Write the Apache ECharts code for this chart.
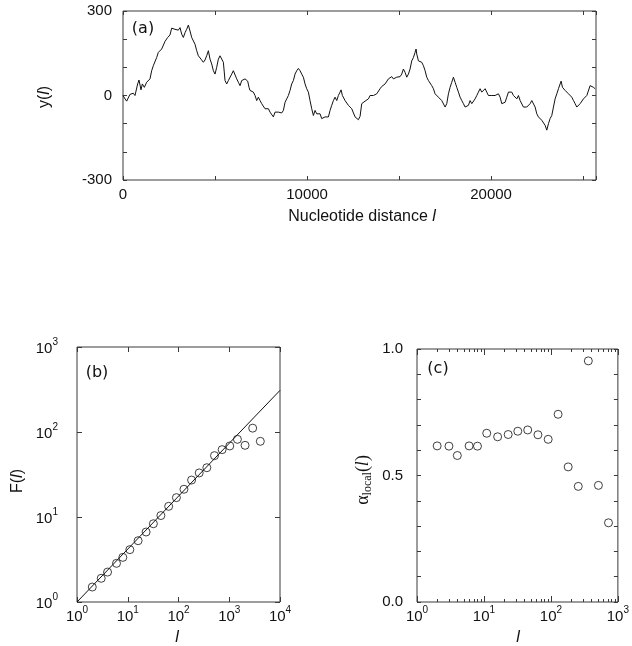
<!DOCTYPE html>
<html>
<head>
<meta charset="utf-8">
<script src="https://cdn.jsdelivr.net/npm/echarts@6/dist/echarts.min.js"></script>
<style>
  html, body { margin: 0; padding: 0; background: #fff; }
  #chart { width: 632px; height: 646px; }
</style>
</head>
<body>
<div id="chart"></div>
<script>
// (a) DNA walk: nucleotide position and walk displacement y(l)
const walkPos = [0, 54, 109, 199, 380, 562, 652, 797, 870, 978, 1051, 1159, 1286, 1377, 1467, 1558, 1648, 1830, 1920, 2101, 2283, 2427, 2554, 2645, 2736, 2826, 2917, 3007, 3098, 3188, 3279, 3370, 3460, 3551, 3641, 3732, 3913, 4004, 4094, 4239, 4366, 4457, 4547, 4638, 4728, 4819, 4910, 5000, 5091, 5181, 5272, 5362, 5453, 5544, 5634, 5725, 5815, 5906, 5996,
  6087, 6178, 6268, 6359, 6449, 6540, 6630, 6775, 6848, 6902, 6993, 7083, 7174, 7265, 7355, 7446, 7536, 7627, 7717, 7808, 7899, 7989, 8080, 8170, 8261, 8351, 8442, 8533, 8623, 8714, 8805, 8895, 8986, 9076, 9167, 9257, 9348, 9439, 9529, 9620, 9710, 9801, 9892, 9982, 10073, 10163, 10254, 10344, 10435, 10526, 10616, 10707, 10797, 10888, 10979, 11069, 11160, 11250, 11341, 11432, 11522, 11613, 11703, 11794, 11848, 11921, 12066, 12156, 12247, 12337, 12428, 12518,
  12609, 12700, 12790, 12881, 12971, 13062, 13153, 13243, 13334, 13424, 13515, 13605, 13696, 13787, 13877, 13968, 14058, 14149, 14240, 14330, 14421, 14511, 14602, 14693, 14783, 14874, 14964, 15055, 15145, 15236, 15327, 15417, 15508, 15598, 15689, 15780, 15870, 15924, 15961, 16051, 16142, 16232, 16323, 16414, 16504, 16595, 16685, 16776, 16867, 16957, 17048, 17138, 17229, 17319, 17410, 17501, 17591, 17682, 17772, 17863, 17954, 18044, 18135, 18225, 18316, 18406, 18497, 18588, 18678, 18769, 18859, 18950, 19040,
  19131, 19222, 19312, 19403, 19493, 19584, 19675, 19765, 19856, 19946, 20037, 20127, 20218, 20309, 20399, 20490, 20580, 20671, 20762, 20852, 20943, 21033, 21124, 21215, 21305, 21396, 21486, 21577, 21667, 21758, 21849, 21939, 22030, 22120, 22211, 22302, 22392, 22483, 22573, 22664, 22754, 22845, 22936, 23026, 23117, 23207, 23298, 23389, 23479, 23570, 23660, 23751, 23805, 23878, 23932, 24023, 24113, 24204, 24294, 24385, 24476, 24566, 24657, 24747, 24838, 24928, 25019, 25109, 25200, 25290, 25381, 25471, 25562, 25653];
const walkY = [0, 6, -12, -20, 4, 8, 0, 41, 55, 20, 41, 29, 47, 41, 59, 88, 106, 135, 153, 165, 192, 206, 215, 239, 243, 235, 241, 232, 241, 218, 206, 223, 235, 250, 229, 206, 182, 159, 141, 129, 118, 126, 141, 159, 129, 112, 88, 76, 100, 129, 141, 135, 118, 53, 41, 53, 59, 76, 88,
  82, 59, 47, 35, 53, 47, 59, 51, 29, 18, 24, 12, 0, -18, -6, -18, -29, -24, -47, -53, -47, -59, -53, -76, -59, -53, -59, -65, -62, -53, -24, -12, 0, 18, 41, 53, 76, 88, 96, 88, 76, 65, 41, 24, 12, -18, -47, -71, -53, -65, -59, -65, -82, -88, -76, -82, -76, -53, -35, -18, -6, -18, 0, 12, 20, 0, -18, -24, -35, -41, -47, -53,
  -76, -82, -86, -74, -29, -24, -20, -18, -12, 0, -4, 0, 2, 6, 12, 24, 32, 35, 41, 47, 59, 62, 67, 59, 53, 65, 71, 67, 76, 94, 82, 65, 76, 94, 123, 135, 153, 165, 147, 123, 118, 118, 106, 88, 65, 53, 47, 35, 24, 6, 0, -6, 0, -18, -24, -41, -29, 6, 29, 47, 65, 47, 29, 12, -6, -18, -29, -41, -47, -35, -18, -29, -35,
  -12, 0, 12, 24, 12, 6, 24, 12, 0, 6, 0, 4, 0, -6, 6, -6, -29, -35, -24, -6, 12, 18, 12, 0, 6, -12, 0, -18, -24, -41, -47, -41, -35, -29, -18, -12, -41, -65, -76, -71, -88, -82, -106, -123, -100, -82, -71, -41, -12, 6, 24, 41, 51, 29, 35, 18, 24, 6, 12, -6, -18, -29, -41, -35, -29, -24, -12, -18, 0, 6, 35, 41, 29, 24];

// (b) fluctuation function F(l) and its power-law fit
const flucL = [2, 3, 4, 6, 8, 11, 16, 23, 32, 45, 64, 91, 128, 181, 256, 362, 512, 724, 1024, 1448, 2048, 2896, 4096];
const flucF = [1.5, 1.9, 2.25, 2.85, 3.35, 4.13, 5.26, 6.66, 8.33, 10.4, 13.35, 16.9, 21.2, 27.2, 33, 38, 52.7, 62, 68.5, 82, 69.7, 111, 77.7];
const fitL = [1, 10000];
const fitF = [1, 309];

// (c) local scaling exponent
const alphaL = [2, 3, 4, 6, 8, 11, 16, 23, 32, 45, 64, 91, 128, 181, 256, 362, 512, 724];
const alphaVal = [0.617, 0.616, 0.579, 0.617, 0.616, 0.667, 0.653, 0.662, 0.675, 0.680, 0.661, 0.643, 0.742, 0.534, 0.457, 0.953, 0.461, 0.313];

// tick labels
const walkXTicks = [0, 10000, 20000];
const walkYTicks = [-300, 0, 300];
const alphaYTicks = [0, 0.5, 1];
const logMinorTicks = [2, 3, 4, 5, 6, 7, 8, 9, 20, 30, 40, 50, 60, 70, 80, 90, 200, 300, 400, 500, 600, 700, 800, 900];

const FONT = 'Liberation Sans';
const INK = '#111';
const FRAME = '#3a3a3a';

const pair = (xs, ys) => xs.map((x, i) => [x, ys[i]]);

const noLine = { show: false, onZero: false };
const tickInside = (len) => ({ show: true, inside: true, length: len, lineStyle: { color: FRAME, width: 1 } });
const plainLabel = (margin, fmt) => ({
  show: true, margin: margin, color: INK, fontFamily: FONT, fontSize: 15, formatter: fmt
});
const powerLabel = (margin) => ({
  show: true, margin: margin, color: INK, fontFamily: FONT,
  formatter: (v) => '{b|10}{s|' + Math.round(Math.log10(v)) + '}',
  rich: {
    b: { fontFamily: FONT, fontSize: 15, color: INK, verticalAlign: 'bottom', lineHeight: 19 },
    s: { fontFamily: FONT, fontSize: 10, color: INK, verticalAlign: 'top', lineHeight: 11 }
  }
});
const hidden = { show: false };

const chart = echarts.init(document.getElementById('chart'), null, { renderer: 'canvas' });

const option = {
  animation: false,
  backgroundColor: '#fff',
  grid: [
    { left: 123, top: 11, width: 473, height: 169, show: true, borderColor: FRAME, borderWidth: 1 },
    { left: 77, top: 347, width: 203, height: 255, show: true, borderColor: FRAME, borderWidth: 1 },
    { left: 417, top: 349, width: 203, height: 253, show: true, borderColor: FRAME, borderWidth: 1 }
  ],
  xAxis: [
    { gridIndex: 0, type: 'value', position: 'bottom', min: 0, max: 25700, interval: 5000,
      axisLine: noLine, splitLine: hidden, axisTick: tickInside(4),
      axisLabel: plainLabel(7, (v) => walkXTicks.includes(v) ? String(v) : '') },
    { gridIndex: 0, type: 'value', position: 'top', min: 0, max: 25700, interval: 5000,
      axisLine: noLine, splitLine: hidden, axisTick: tickInside(4), axisLabel: hidden },
    { gridIndex: 1, type: 'log', logBase: 10, position: 'bottom', min: 1, max: 10000, interval: 1,
      axisLine: noLine, splitLine: hidden, axisTick: tickInside(5), axisLabel: powerLabel(3) },
    { gridIndex: 1, type: 'log', logBase: 10, position: 'top', min: 1, max: 10000, interval: 1,
      axisLine: noLine, splitLine: hidden, axisTick: tickInside(5), axisLabel: hidden },
    { gridIndex: 2, type: 'log', logBase: 10, position: 'bottom', min: 1, max: 1000, interval: 1,
      axisLine: noLine, splitLine: hidden, axisTick: tickInside(6), axisLabel: powerLabel(3) },
    { gridIndex: 2, type: 'log', logBase: 10, position: 'top', min: 1, max: 1000, interval: 1,
      axisLine: noLine, splitLine: hidden, axisTick: tickInside(6), axisLabel: hidden }
  ],
  yAxis: [
    { gridIndex: 0, type: 'value', position: 'left', min: -300, max: 300, interval: 100,
      axisLine: noLine, splitLine: hidden, axisTick: tickInside(4),
      axisLabel: plainLabel(11, (v) => walkYTicks.includes(v) ? String(v) : '') },
    { gridIndex: 0, type: 'value', position: 'right', min: -300, max: 300, interval: 100,
      axisLine: noLine, splitLine: hidden, axisTick: tickInside(4), axisLabel: hidden },
    { gridIndex: 1, type: 'log', logBase: 10, position: 'left', min: 1, max: 1000, interval: 1,
      axisLine: noLine, splitLine: hidden, axisTick: tickInside(5), axisLabel: powerLabel(19) },
    { gridIndex: 1, type: 'log', logBase: 10, position: 'right', min: 1, max: 1000, interval: 1,
      axisLine: noLine, splitLine: hidden, axisTick: tickInside(5), axisLabel: hidden },
    { gridIndex: 2, type: 'value', position: 'left', min: 0, max: 1, interval: 0.1,
      axisLine: noLine, splitLine: hidden, axisTick: tickInside(4),
      axisLabel: plainLabel(14, (v) => alphaYTicks.some((t) => Math.abs(t - v) < 1e-6) ? v.toFixed(1) : '') },
    { gridIndex: 2, type: 'value', position: 'right', min: 0, max: 1, interval: 0.1,
      axisLine: noLine, splitLine: hidden, axisTick: tickInside(4), axisLabel: hidden }
  ],
  series: [
    { type: 'line', name: 'walk', xAxisIndex: 0, yAxisIndex: 0, data: pair(walkPos, walkY),
      showSymbol: false, symbol: 'none', sampling: 'none',
      lineStyle: { color: INK, width: 1 } },
    { type: 'line', name: 'fit', xAxisIndex: 2, yAxisIndex: 2, data: pair(fitL, fitF),
      showSymbol: false, symbol: 'none', clip: true,
      lineStyle: { color: INK, width: 1 } },
    { type: 'scatter', name: 'F', xAxisIndex: 2, yAxisIndex: 2, data: pair(flucL, flucF),
      symbol: 'circle', symbolSize: 8,
      itemStyle: { color: 'rgba(255,255,255,0)', borderColor: INK, borderWidth: 1 } },
    { type: 'scatter', name: 'alpha', xAxisIndex: 4, yAxisIndex: 4, data: pair(alphaL, alphaVal),
      symbol: 'circle', symbolSize: 8,
      itemStyle: { color: 'rgba(255,255,255,0)', borderColor: INK, borderWidth: 1 } },
    { type: 'custom', name: 'minorTicks', xAxisIndex: 4, yAxisIndex: 4,
      data: logMinorTicks.map((v) => [v, 0]), silent: true, clip: false,
      renderItem: (params, api) => {
        const v = api.value(0);
        const b = api.coord([v, 0]);
        const t = api.coord([v, 1]);
        const x = Math.round(b[0]) + 0.5;
        return {
          type: 'group',
          children: [
            { type: 'line', shape: { x1: x, y1: b[1], x2: x, y2: b[1] - 3 }, style: { stroke: FRAME, lineWidth: 1 } },
            { type: 'line', shape: { x1: x, y1: t[1], x2: x, y2: t[1] + 3 }, style: { stroke: FRAME, lineWidth: 1 } }
          ]
        };
      } }
  ],
  graphic: [
    { type: 'text', x: 143, y: 29, style: { text: '(a)', font: '16px "DejaVu Sans"', fill: INK, textAlign: 'center', textVerticalAlign: 'middle' } },
    { type: 'text', x: 97, y: 373, style: { text: '(b)', font: '16px "DejaVu Sans"', fill: INK, textAlign: 'center', textVerticalAlign: 'middle' } },
    { type: 'text', x: 438, y: 369, style: { text: '(c)', font: '16px "DejaVu Sans"', fill: INK, textAlign: 'center', textVerticalAlign: 'middle' } },
    { type: 'text', x: 362, y: 217, style: {
        text: '{n|Nucleotide distance }{i|l}', textAlign: 'center', textVerticalAlign: 'middle',
        rich: { n: { fontFamily: FONT, fontSize: 16, fill: INK }, i: { fontFamily: FONT, fontStyle: 'italic', fontSize: 16, fill: INK } } } },
    { type: 'text', x: 45, y: 97, rotation: Math.PI / 2, style: {
        text: '{n|y(}{i|l}{n|)}', textAlign: 'center', textVerticalAlign: 'middle',
        rich: { n: { fontFamily: FONT, fontSize: 16, fill: INK }, i: { fontFamily: FONT, fontStyle: 'italic', fontSize: 16, fill: INK } } } },
    { type: 'text', x: 18, y: 481, rotation: Math.PI / 2, style: {
        text: '{n|F(}{i|l}{n|)}', textAlign: 'center', textVerticalAlign: 'middle',
        rich: { n: { fontFamily: FONT, fontSize: 16, fill: INK }, i: { fontFamily: FONT, fontStyle: 'italic', fontSize: 16, fill: INK } } } },
    { type: 'text', x: 364, y: 480, rotation: Math.PI / 2, style: {
        text: '{a|α}{s|local}{n|(}{i|l}{n|)}', textAlign: 'center', textVerticalAlign: 'middle',
        rich: {
          a: { fontFamily: 'Liberation Serif', fontSize: 18, fill: INK, verticalAlign: 'top', lineHeight: 20 },
          s: { fontFamily: 'Liberation Serif', fontSize: 12, fill: INK, verticalAlign: 'bottom', lineHeight: 14 },
          n: { fontFamily: 'Liberation Serif', fontSize: 18, fill: INK, verticalAlign: 'top', lineHeight: 20 },
          i: { fontFamily: 'Liberation Serif', fontStyle: 'italic', fontSize: 18, fill: INK, verticalAlign: 'top', lineHeight: 20 } } } },
    { type: 'text', x: 177, y: 638, style: { text: 'l', font: 'italic 16px "Liberation Sans"', fill: INK, textAlign: 'center', textVerticalAlign: 'middle' } },
    { type: 'text', x: 518, y: 638, style: { text: 'l', font: 'italic 16px "Liberation Sans"', fill: INK, textAlign: 'center', textVerticalAlign: 'middle' } }
  ]
};

chart.setOption(option);
</script>
</body>
</html>
